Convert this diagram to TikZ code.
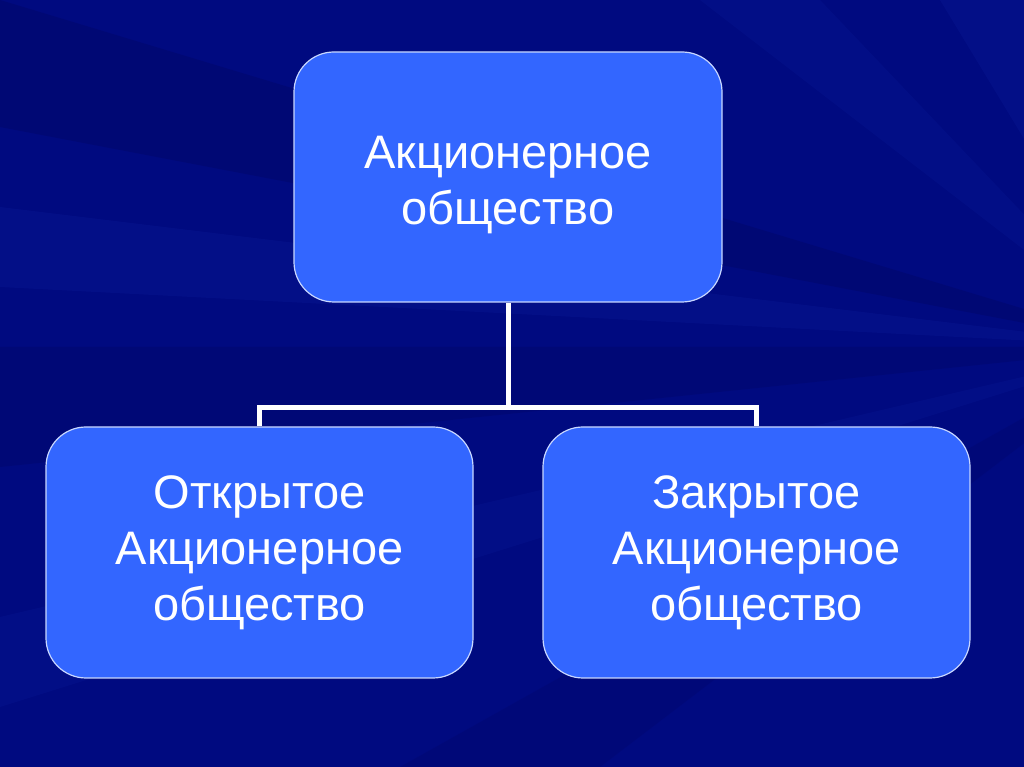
\documentclass[tikz,border=0pt]{standalone}
\usepackage{fontspec}
\setmainfont{Liberation Sans}
\definecolor{bgnavy}{RGB}{0,10,128}
\definecolor{bgdark}{RGB}{0,4,90}
\definecolor{bglight}{RGB}{20,40,170}
\definecolor{boxfill}{RGB}{51,102,255}
\definecolor{boxline}{RGB}{200,215,255}
\begin{document}
\begin{tikzpicture}[x=1pt,y=1pt,
  orgbox/.style={draw=boxline, line width=1.2pt, fill=boxfill, rounded corners=40pt,
    minimum width=428pt, minimum height=250pt, align=center, text=white,
    font=\fontsize{47}{56}\selectfont},
  boxtext/.style={align=center, text=white, font=\fontsize{47}{56}\selectfont},
  link/.style={white, line width=5pt}]
\useasboundingbox (0,0) rectangle (1024,767);
\fill[bgnavy] (0,0) rectangle (1024,767);
\begin{scope}
\clip (0,0) rectangle (1024,767);
\fill[bgdark, opacity=0.3] (1150,420) -- (0,767) -- (0,640) -- cycle;
\fill[bgdark, opacity=0.25] (1150,420) -- (0,420) -- (0,300) -- cycle;
\fill[bglight, opacity=0.18] (1150,420) -- (0,560) -- (0,480) -- cycle;
\fill[bglight, opacity=0.15] (1150,420) -- (700,767) -- (820,767) -- cycle;
\fill[bglight, opacity=0.18] (1150,420) -- (1024,767) -- (940,767) -- cycle;
\fill[bglight, opacity=0.15] (1150,420) -- (0,150) -- (0,60) -- cycle;
\fill[bglight, opacity=0.15] (1150,420) -- (1024,250) -- (1024,180) -- cycle;
\fill[bglight, opacity=0.15] (1150,420) -- (1024,60) -- (1024,0) -- cycle;
\fill[bgdark, opacity=0.2] (1150,420) -- (400,0) -- (600,0) -- cycle;
\end{scope}
\node[orgbox] (top) at (508,590) {};
\node[boxtext] (toptext) at ([yshift=-8pt]top.center) {Акционерное\\общество};
\node[orgbox, minimum width=427pt, minimum height=251pt] (left) at (259.5,214.5) {Открытое\\Акционерное\\общество};
\node[orgbox, minimum width=427pt, minimum height=251pt] (right) at (756.5,214.5) {Закрытое\\Акционерное\\общество};
\coordinate (j) at (508,359);
\draw[link] (top.south) -- (j);
\draw[link] (left.north) |- (j) -| (right.north);
\end{tikzpicture}
\end{document}
